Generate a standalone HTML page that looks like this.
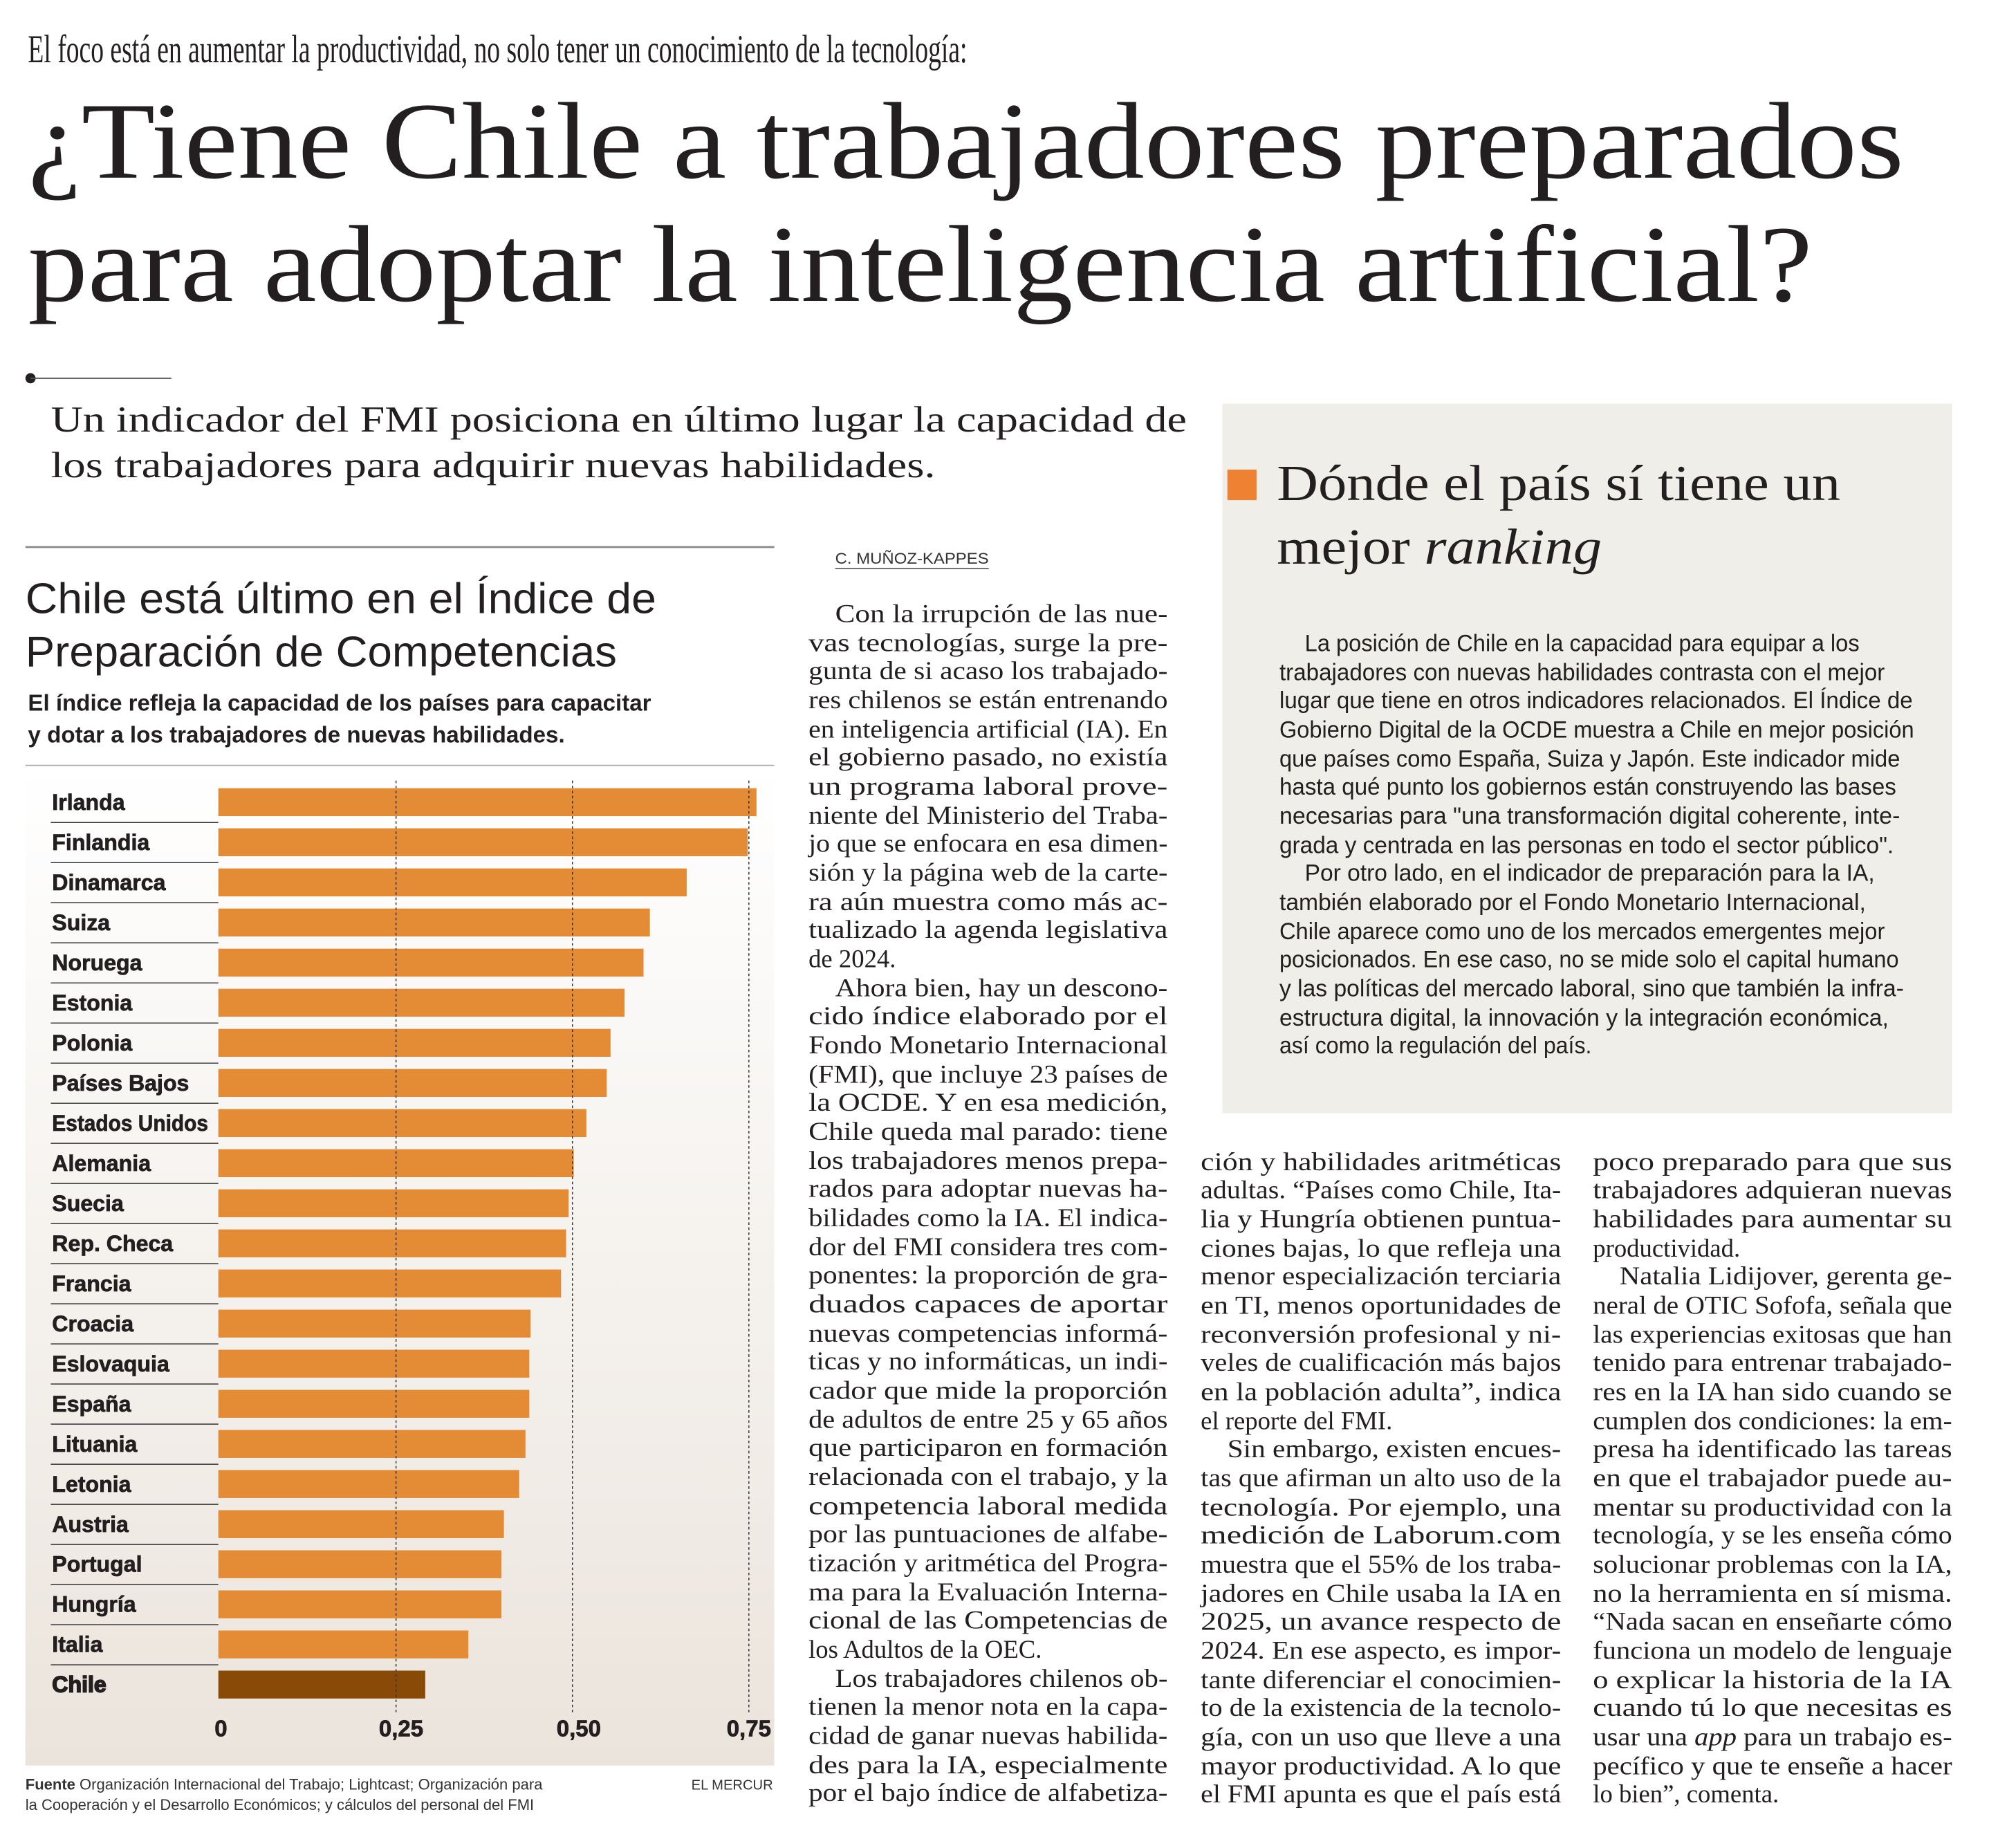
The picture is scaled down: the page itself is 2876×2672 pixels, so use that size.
<!DOCTYPE html>
<html><head><meta charset="utf-8"><style>html,body{margin:0;padding:0;background:#fff}svg{display:block}</style></head>
<body>
<svg xmlns="http://www.w3.org/2000/svg" width="2876" height="2672" viewBox="0 0 1560 1449.4">
<defs>
<linearGradient id="cg" x1="0" y1="0" x2="0" y2="1">
<stop offset="0" stop-color="#ffffff"/><stop offset="1" stop-color="#ebe4dc"/>
</linearGradient>
</defs>
<rect width="1560" height="1450" fill="#fff"/>
<g transform="scale(0.9955)">
<g font-family="Liberation Serif, serif" fill="#231f20">
<text x="22" y="49" font-size="31" textLength="740" lengthAdjust="spacingAndGlyphs">El foco está en aumentar la productividad, no solo tener un conocimiento de la tecnología:</text>
<text x="22" y="140" font-size="86" textLength="1478" lengthAdjust="spacingAndGlyphs">¿Tiene Chile a trabajadores preparados</text>
<text x="22" y="237" font-size="86" textLength="1406" lengthAdjust="spacingAndGlyphs">para adoptar la inteligencia artificial?</text>
<circle cx="24" cy="298" r="4" fill="#231f20"/>
<line x1="24" y1="298" x2="135" y2="298" stroke="#555" stroke-width="1"/>
<text x="40" y="340" font-size="29" textLength="895" lengthAdjust="spacingAndGlyphs">Un indicador del FMI posiciona en último lugar la capacidad de</text>
<text x="40" y="376" font-size="29" textLength="697" lengthAdjust="spacingAndGlyphs">los trabajadores para adquirir nuevas habilidades.</text>
</g>
<rect x="963" y="318" width="575" height="559" fill="#efeee8"/>
<rect x="967" y="370" width="23" height="24" fill="#ef8132"/>
<g font-family="Liberation Serif, serif" fill="#231f20">
<text x="1006" y="394" font-size="40" textLength="444" lengthAdjust="spacingAndGlyphs">Dónde el país sí tiene un</text>
<text x="1006" y="444" font-size="40" textLength="256" lengthAdjust="spacingAndGlyphs">mejor <tspan font-style="italic">ranking</tspan></text>
</g>
<g font-family="Liberation Sans, sans-serif" fill="#231f20" font-size="18.5">
<text x="1028" y="513" textLength="437" lengthAdjust="spacingAndGlyphs">La posición de Chile en la capacidad para equipar a los</text>
<text x="1008" y="536" textLength="477" lengthAdjust="spacingAndGlyphs">trabajadores con nuevas habilidades contrasta con el mejor</text>
<text x="1008" y="558" textLength="499" lengthAdjust="spacingAndGlyphs">lugar que tiene en otros indicadores relacionados. El Índice de</text>
<text x="1008" y="581" textLength="500" lengthAdjust="spacingAndGlyphs">Gobierno Digital de la OCDE muestra a Chile en mejor posición</text>
<text x="1008" y="604" textLength="489" lengthAdjust="spacingAndGlyphs">que países como España, Suiza y Japón. Este indicador mide</text>
<text x="1008" y="626" textLength="486" lengthAdjust="spacingAndGlyphs">hasta qué punto los gobiernos están construyendo las bases</text>
<text x="1008" y="649" textLength="489" lengthAdjust="spacingAndGlyphs">necesarias para "una transformación digital coherente, inte-</text>
<text x="1008" y="672" textLength="484" lengthAdjust="spacingAndGlyphs">grada y centrada en las personas en todo el sector público".</text>
<text x="1028" y="694" textLength="449" lengthAdjust="spacingAndGlyphs">Por otro lado, en el indicador de preparación para la IA,</text>
<text x="1008" y="717" textLength="462" lengthAdjust="spacingAndGlyphs">también elaborado por el Fondo Monetario Internacional,</text>
<text x="1008" y="740" textLength="477" lengthAdjust="spacingAndGlyphs">Chile aparece como uno de los mercados emergentes mejor</text>
<text x="1008" y="762" textLength="488" lengthAdjust="spacingAndGlyphs">posicionados. En ese caso, no se mide solo el capital humano</text>
<text x="1008" y="785" textLength="492" lengthAdjust="spacingAndGlyphs">y las políticas del mercado laboral, sino que también la infra-</text>
<text x="1008" y="808" textLength="480" lengthAdjust="spacingAndGlyphs">estructura digital, la innovación y la integración económica,</text>
<text x="1008" y="830" textLength="246" lengthAdjust="spacingAndGlyphs">así como la regulación del país.</text>
</g>
<line x1="20" y1="431" x2="610" y2="431" stroke="#888" stroke-width="1.5"/>
<g font-family="Liberation Sans, sans-serif" fill="#231f20">
<text x="20" y="483" font-size="34" textLength="497" lengthAdjust="spacingAndGlyphs">Chile está último en el Índice de</text>
<text x="20" y="525" font-size="34" textLength="466" lengthAdjust="spacingAndGlyphs">Preparación de Competencias</text>
<text x="22" y="560" font-size="18" font-weight="bold" textLength="491" lengthAdjust="spacingAndGlyphs">El índice refleja la capacidad de los países para capacitar</text>
<text x="22" y="585" font-size="18" font-weight="bold" textLength="423" lengthAdjust="spacingAndGlyphs">y dotar a los trabajadores de nuevas habilidades.</text>
</g>
<line x1="20" y1="603" x2="610" y2="603" stroke="#aaa" stroke-width="1"/>
<rect x="20" y="604" width="590" height="787" fill="url(#cg)"/>
<g fill="#e38c35">
<rect x="172" y="621" width="424" height="22"/>
<rect x="172" y="652.6" width="417" height="22"/>
<rect x="172" y="684.2" width="369" height="22"/>
<rect x="172" y="715.8" width="340" height="22"/>
<rect x="172" y="747.4" width="335" height="22"/>
<rect x="172" y="779" width="320" height="22"/>
<rect x="172" y="810.6" width="309" height="22"/>
<rect x="172" y="842.2" width="306" height="22"/>
<rect x="172" y="873.8" width="290" height="22"/>
<rect x="172" y="905.4" width="280" height="22"/>
<rect x="172" y="937" width="276" height="22"/>
<rect x="172" y="968.6" width="274" height="22"/>
<rect x="172" y="1000.2" width="270" height="22"/>
<rect x="172" y="1031.8" width="246" height="22"/>
<rect x="172" y="1063.4" width="245" height="22"/>
<rect x="172" y="1095" width="245" height="22"/>
<rect x="172" y="1126.6" width="242" height="22"/>
<rect x="172" y="1158.2" width="237" height="22"/>
<rect x="172" y="1189.8" width="225" height="22"/>
<rect x="172" y="1221.4" width="223" height="22"/>
<rect x="172" y="1253" width="223" height="22"/>
<rect x="172" y="1284.6" width="197" height="22"/>
<rect x="172" y="1316.2" width="163" height="22" fill="#8a4a07"/>
</g>
<g stroke="#333" stroke-width="0.8" stroke-dasharray="2,2">
<line x1="312" y1="615" x2="312" y2="1350"/>
<line x1="451" y1="615" x2="451" y2="1350"/>
<line x1="590" y1="615" x2="590" y2="1350"/>
</g>
<g stroke="#333" stroke-width="0.8">
<line x1="40" y1="648" x2="172" y2="648"/><line x1="40" y1="679.6" x2="172" y2="679.6"/>
<line x1="40" y1="711.2" x2="172" y2="711.2"/><line x1="40" y1="742.8" x2="172" y2="742.8"/>
<line x1="40" y1="774.4" x2="172" y2="774.4"/><line x1="40" y1="806" x2="172" y2="806"/>
<line x1="40" y1="837.6" x2="172" y2="837.6"/><line x1="40" y1="869.2" x2="172" y2="869.2"/>
<line x1="40" y1="900.8" x2="172" y2="900.8"/><line x1="40" y1="932.4" x2="172" y2="932.4"/>
<line x1="40" y1="964" x2="172" y2="964"/><line x1="40" y1="995.6" x2="172" y2="995.6"/>
<line x1="40" y1="1027.2" x2="172" y2="1027.2"/><line x1="40" y1="1058.8" x2="172" y2="1058.8"/>
<line x1="40" y1="1090.4" x2="172" y2="1090.4"/><line x1="40" y1="1122" x2="172" y2="1122"/>
<line x1="40" y1="1153.6" x2="172" y2="1153.6"/><line x1="40" y1="1185.2" x2="172" y2="1185.2"/>
<line x1="40" y1="1216.8" x2="172" y2="1216.8"/><line x1="40" y1="1248.4" x2="172" y2="1248.4"/>
<line x1="40" y1="1280" x2="172" y2="1280"/><line x1="40" y1="1311.6" x2="172" y2="1311.6"/>
</g>
<g font-family="Liberation Sans, sans-serif" font-weight="bold" font-size="17.5" fill="#231f20" stroke="#231f20" stroke-width="0.4">
<text x="41" y="638">Irlanda</text><text x="41" y="669.6">Finlandia</text><text x="41" y="701.2">Dinamarca</text>
<text x="41" y="732.8">Suiza</text><text x="41" y="764.4">Noruega</text><text x="41" y="796">Estonia</text>
<text x="41" y="827.6">Polonia</text><text x="41" y="859.2">Países Bajos</text><text x="41" y="890.8" textLength="123" lengthAdjust="spacingAndGlyphs">Estados Unidos</text>
<text x="41" y="922.4">Alemania</text><text x="41" y="954">Suecia</text><text x="41" y="985.6">Rep. Checa</text>
<text x="41" y="1017.2">Francia</text><text x="41" y="1048.8">Croacia</text><text x="41" y="1080.4">Eslovaquia</text>
<text x="41" y="1112">España</text><text x="41" y="1143.6">Lituania</text><text x="41" y="1175.2">Letonia</text>
<text x="41" y="1206.8">Austria</text><text x="41" y="1238.4">Portugal</text><text x="41" y="1270">Hungría</text>
<text x="41" y="1301.6">Italia</text><text x="41" y="1333.2" stroke-width="0.9">Chile</text>
<text x="174" y="1368" text-anchor="middle" font-size="18">0</text>
<text x="316" y="1368" text-anchor="middle" font-size="18">0,25</text>
<text x="456" y="1368" text-anchor="middle" font-size="18">0,50</text>
<text x="590" y="1368" text-anchor="middle" font-size="18">0,75</text>
</g>
<g font-family="Liberation Sans, sans-serif" font-size="12" fill="#333">
<text x="20" y="1410"><tspan font-weight="bold">Fuente</tspan>  Organización Internacional del Trabajo; Lightcast; Organización para</text>
<text x="20" y="1426">la Cooperación y el Desarrollo Económicos; y cálculos del personal del FMI</text>
<text x="609" y="1410" text-anchor="end" font-size="11">EL MERCUR</text>
<text x="658" y="444" font-size="12" textLength="121" lengthAdjust="spacingAndGlyphs">C. MUÑOZ-KAPPES</text>
</g>
<line x1="658" y1="448" x2="779" y2="448" stroke="#333" stroke-width="0.8"/>
<g font-family="Liberation Serif, serif" font-size="20" fill="#231f20">
<text x="658" y="490" textLength="262" lengthAdjust="spacingAndGlyphs">Con la irrupción de las nue-</text>
<text x="637" y="513" textLength="283" lengthAdjust="spacingAndGlyphs">vas tecnologías, surge la pre-</text>
<text x="637" y="535" textLength="283" lengthAdjust="spacingAndGlyphs">gunta de si acaso los trabajado-</text>
<text x="637" y="558" textLength="283" lengthAdjust="spacingAndGlyphs">res chilenos se están entrenando</text>
<text x="637" y="581" textLength="283" lengthAdjust="spacingAndGlyphs">en inteligencia artificial (IA). En</text>
<text x="637" y="603" textLength="283" lengthAdjust="spacingAndGlyphs">el gobierno pasado, no existía</text>
<text x="637" y="626" textLength="283" lengthAdjust="spacingAndGlyphs">un programa laboral prove-</text>
<text x="637" y="649" textLength="283" lengthAdjust="spacingAndGlyphs">niente del Ministerio del Traba-</text>
<text x="637" y="671" textLength="283" lengthAdjust="spacingAndGlyphs">jo que se enfocara en esa dimen-</text>
<text x="637" y="694" textLength="283" lengthAdjust="spacingAndGlyphs">sión y la página web de la carte-</text>
<text x="637" y="717" textLength="283" lengthAdjust="spacingAndGlyphs">ra aún muestra como más ac-</text>
<text x="637" y="739" textLength="283" lengthAdjust="spacingAndGlyphs">tualizado la agenda legislativa</text>
<text x="637" y="762">de 2024.</text>
<text x="658" y="785" textLength="262" lengthAdjust="spacingAndGlyphs">Ahora bien, hay un descono-</text>
<text x="637" y="807" textLength="283" lengthAdjust="spacingAndGlyphs">cido índice elaborado por el</text>
<text x="637" y="830" textLength="283" lengthAdjust="spacingAndGlyphs">Fondo Monetario Internacional</text>
<text x="637" y="853" textLength="283" lengthAdjust="spacingAndGlyphs">(FMI), que incluye 23 países de</text>
<text x="637" y="875" textLength="283" lengthAdjust="spacingAndGlyphs">la OCDE. Y en esa medición,</text>
<text x="637" y="898" textLength="283" lengthAdjust="spacingAndGlyphs">Chile queda mal parado: tiene</text>
<text x="637" y="921" textLength="283" lengthAdjust="spacingAndGlyphs">los trabajadores menos prepa-</text>
<text x="637" y="943" textLength="283" lengthAdjust="spacingAndGlyphs">rados para adoptar nuevas ha-</text>
<text x="637" y="966" textLength="283" lengthAdjust="spacingAndGlyphs">bilidades como la IA. El indica-</text>
<text x="637" y="989" textLength="283" lengthAdjust="spacingAndGlyphs">dor del FMI considera tres com-</text>
<text x="637" y="1011" textLength="283" lengthAdjust="spacingAndGlyphs">ponentes: la proporción de gra-</text>
<text x="637" y="1034" textLength="283" lengthAdjust="spacingAndGlyphs">duados capaces de aportar</text>
<text x="637" y="1057" textLength="283" lengthAdjust="spacingAndGlyphs">nuevas competencias informá-</text>
<text x="637" y="1079" textLength="283" lengthAdjust="spacingAndGlyphs">ticas y no informáticas, un indi-</text>
<text x="637" y="1102" textLength="283" lengthAdjust="spacingAndGlyphs">cador que mide la proporción</text>
<text x="637" y="1125" textLength="283" lengthAdjust="spacingAndGlyphs">de adultos de entre 25 y 65 años</text>
<text x="637" y="1147" textLength="283" lengthAdjust="spacingAndGlyphs">que participaron en formación</text>
<text x="637" y="1170" textLength="283" lengthAdjust="spacingAndGlyphs">relacionada con el trabajo, y la</text>
<text x="637" y="1193" textLength="283" lengthAdjust="spacingAndGlyphs">competencia laboral medida</text>
<text x="637" y="1215" textLength="283" lengthAdjust="spacingAndGlyphs">por las puntuaciones de alfabe-</text>
<text x="637" y="1238" textLength="283" lengthAdjust="spacingAndGlyphs">tización y aritmética del Progra-</text>
<text x="637" y="1261" textLength="283" lengthAdjust="spacingAndGlyphs">ma para la Evaluación Interna-</text>
<text x="637" y="1283" textLength="283" lengthAdjust="spacingAndGlyphs">cional de las Competencias de</text>
<text x="637" y="1306">los Adultos de la OEC.</text>
<text x="658" y="1329" textLength="262" lengthAdjust="spacingAndGlyphs">Los trabajadores chilenos ob-</text>
<text x="637" y="1351" textLength="283" lengthAdjust="spacingAndGlyphs">tienen la menor nota en la capa-</text>
<text x="637" y="1374" textLength="283" lengthAdjust="spacingAndGlyphs">cidad de ganar nuevas habilida-</text>
<text x="637" y="1397" textLength="283" lengthAdjust="spacingAndGlyphs">des para la IA, especialmente</text>
<text x="637" y="1419" textLength="283" lengthAdjust="spacingAndGlyphs">por el bajo índice de alfabetiza-</text>

<text x="946" y="922" textLength="284" lengthAdjust="spacingAndGlyphs">ción y habilidades aritméticas</text>
<text x="946" y="944" textLength="284" lengthAdjust="spacingAndGlyphs">adultas. “Países como Chile, Ita-</text>
<text x="946" y="967" textLength="284" lengthAdjust="spacingAndGlyphs">lia y Hungría obtienen puntua-</text>
<text x="946" y="990" textLength="284" lengthAdjust="spacingAndGlyphs">ciones bajas, lo que refleja una</text>
<text x="946" y="1012" textLength="284" lengthAdjust="spacingAndGlyphs">menor especialización terciaria</text>
<text x="946" y="1035" textLength="284" lengthAdjust="spacingAndGlyphs">en TI, menos oportunidades de</text>
<text x="946" y="1058" textLength="284" lengthAdjust="spacingAndGlyphs">reconversión profesional y ni-</text>
<text x="946" y="1080" textLength="284" lengthAdjust="spacingAndGlyphs">veles de cualificación más bajos</text>
<text x="946" y="1103" textLength="284" lengthAdjust="spacingAndGlyphs">en la población adulta”, indica</text>
<text x="946" y="1126">el reporte del FMI.</text>
<text x="967" y="1148" textLength="263" lengthAdjust="spacingAndGlyphs">Sin embargo, existen encues-</text>
<text x="946" y="1171" textLength="284" lengthAdjust="spacingAndGlyphs">tas que afirman un alto uso de la</text>
<text x="946" y="1194" textLength="284" lengthAdjust="spacingAndGlyphs">tecnología. Por ejemplo, una</text>
<text x="946" y="1216" textLength="284" lengthAdjust="spacingAndGlyphs">medición de Laborum.com</text>
<text x="946" y="1239" textLength="284" lengthAdjust="spacingAndGlyphs">muestra que el 55% de los traba-</text>
<text x="946" y="1262" textLength="284" lengthAdjust="spacingAndGlyphs">jadores en Chile usaba la IA en</text>
<text x="946" y="1284" textLength="284" lengthAdjust="spacingAndGlyphs">2025, un avance respecto de</text>
<text x="946" y="1307" textLength="284" lengthAdjust="spacingAndGlyphs">2024. En ese aspecto, es impor-</text>
<text x="946" y="1330" textLength="284" lengthAdjust="spacingAndGlyphs">tante diferenciar el conocimien-</text>
<text x="946" y="1352" textLength="284" lengthAdjust="spacingAndGlyphs">to de la existencia de la tecnolo-</text>
<text x="946" y="1375" textLength="284" lengthAdjust="spacingAndGlyphs">gía, con un uso que lleve a una</text>
<text x="946" y="1398" textLength="284" lengthAdjust="spacingAndGlyphs">mayor productividad. A lo que</text>
<text x="946" y="1420" textLength="284" lengthAdjust="spacingAndGlyphs">el FMI apunta es que el país está</text>

<text x="1255" y="922" textLength="283" lengthAdjust="spacingAndGlyphs">poco preparado para que sus</text>
<text x="1255" y="944" textLength="283" lengthAdjust="spacingAndGlyphs">trabajadores adquieran nuevas</text>
<text x="1255" y="967" textLength="283" lengthAdjust="spacingAndGlyphs">habilidades para aumentar su</text>
<text x="1255" y="990">productividad.</text>
<text x="1276" y="1012" textLength="262" lengthAdjust="spacingAndGlyphs">Natalia Lidijover, gerenta ge-</text>
<text x="1255" y="1035" textLength="283" lengthAdjust="spacingAndGlyphs">neral de OTIC Sofofa, señala que</text>
<text x="1255" y="1058" textLength="283" lengthAdjust="spacingAndGlyphs">las experiencias exitosas que han</text>
<text x="1255" y="1080" textLength="283" lengthAdjust="spacingAndGlyphs">tenido para entrenar trabajado-</text>
<text x="1255" y="1103" textLength="283" lengthAdjust="spacingAndGlyphs">res en la IA han sido cuando se</text>
<text x="1255" y="1126" textLength="283" lengthAdjust="spacingAndGlyphs">cumplen dos condiciones: la em-</text>
<text x="1255" y="1148" textLength="283" lengthAdjust="spacingAndGlyphs">presa ha identificado las tareas</text>
<text x="1255" y="1171" textLength="283" lengthAdjust="spacingAndGlyphs">en que el trabajador puede au-</text>
<text x="1255" y="1194" textLength="283" lengthAdjust="spacingAndGlyphs">mentar su productividad con la</text>
<text x="1255" y="1216" textLength="283" lengthAdjust="spacingAndGlyphs">tecnología, y se les enseña cómo</text>
<text x="1255" y="1239" textLength="283" lengthAdjust="spacingAndGlyphs">solucionar problemas con la IA,</text>
<text x="1255" y="1262" textLength="283" lengthAdjust="spacingAndGlyphs">no la herramienta en sí misma.</text>
<text x="1255" y="1284" textLength="283" lengthAdjust="spacingAndGlyphs">“Nada sacan en enseñarte cómo</text>
<text x="1255" y="1307" textLength="283" lengthAdjust="spacingAndGlyphs">funciona un modelo de lenguaje</text>
<text x="1255" y="1330" textLength="283" lengthAdjust="spacingAndGlyphs">o explicar la historia de la IA</text>
<text x="1255" y="1352" textLength="283" lengthAdjust="spacingAndGlyphs">cuando tú lo que necesitas es</text>
<text x="1255" y="1375" textLength="283" lengthAdjust="spacingAndGlyphs">usar una <tspan font-style="italic">app</tspan> para un trabajo es-</text>
<text x="1255" y="1398" textLength="283" lengthAdjust="spacingAndGlyphs">pecífico y que te enseñe a hacer</text>
<text x="1255" y="1420">lo bien”, comenta.</text>
</g>
</g>
</svg>
</body></html>
